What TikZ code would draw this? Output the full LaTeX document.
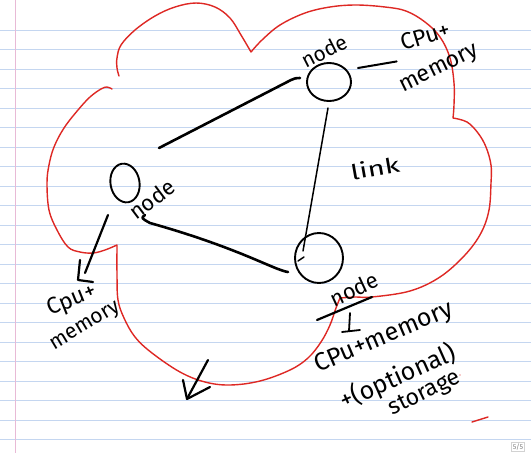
\documentclass[tikz,border=0pt]{standalone}
\usepackage{fontspec}
\setmainfont{Fira Sans}
\usetikzlibrary{shapes.geometric,calc}
\definecolor{ruleblue}{RGB}{196,214,240}
\definecolor{marginpink}{RGB}{232,186,214}
\definecolor{cloudred}{RGB}{222,40,36}
\begin{document}
\begin{tikzpicture}[x=1pt,y=-1pt,
  ruled/.style={draw=ruleblue, line width=1pt},
  marginline/.style={draw=marginpink, line width=1pt},
  cloudline/.style={draw=cloudred, line width=1.4pt, line cap=round, line join=round},
  ink/.style={line width=2.6pt, line cap=round, line join=round},
  thinink/.style={line width=1.5pt, line cap=round, line join=round},
  nodecirc/.style={ellipse, draw, line width=1.9pt, inner sep=0pt},
  hand/.style={font=\fontsize{21}{21}\selectfont, inner sep=0pt},
  bighand/.style={font=\fontsize{25}{25}\selectfont, inner sep=0pt}]
\useasboundingbox (0,0) rectangle (531,453);
\fill[white] (0,0) rectangle (531,453);
% lined paper
\foreach \k in {0,...,21} \draw[ruled] (0,{30+19.52*\k}) -- (531,{30+19.52*\k});
\draw[marginline] (15,0) -- (15,453);
% cloud
\draw[cloudline] plot[smooth, tension=0.6] coordinates {(119,76) (117,68) (117,58) (121,45) (135,30) (155,16) (175,7) (196,3) (215,7) (230,18) (241,35) (251,52)}
  plot[smooth, tension=0.6] coordinates {(251,52) (262,40) (280,25) (305,13) (330,7) (356,5) (385,7) (406,11) (425,22) (440,37) (450,58) (454,83) (454,105) (453,118)}
  plot[smooth, tension=0.6] coordinates {(453,118) (467,122) (478,133) (486,147) (491,165) (491,183) (489,210) (481,233) (465,255) (440,277) (410,291) (372,297) (355,297) (340,298)}
  plot[smooth, tension=0.6] coordinates {(340,298) (336,308) (330,325) (321,342) (308,358) (290,370) (260,381) (230,385) (205,382) (180,372) (152,353) (135,337) (124,318) (118,300) (117,275) (117,245)}
  plot[smooth, tension=0.6] coordinates {(117,245) (105,250) (93,253) (80,252) (68,247) (57,230) (49,210) (47,183) (49,165) (54,147) (64,128) (78,110) (90,97) (101,89) (107,87) (112,89)};
\draw[cloudline] (472,422) -- (488,417);
\fill[cloudred] (460,375) circle (0.7pt);
% nodes
\node[nodecirc, minimum width=44pt, minimum height=38pt] (top) at (329,82) {};
\node[nodecirc, minimum width=29pt, minimum height=39pt, rotate=10] (left) at (125,183) {};
\node[nodecirc, minimum width=48pt, minimum height=50pt] (bottom) at (319,258) {};
% labels
\node[hand, rotate=27] (topname) at (324,51) {node};
\node[hand, rotate=17, font=\fontsize{23}{23}\selectfont] (cpu1) at (425,36) {CPu+};
\node[hand, rotate=26, font=\fontsize{23}{23}\selectfont] (mem1) at (440,70) {memory};
\node[hand, rotate=10, xscale=1.4] (linklbl) at (375,168) {link};
\node[hand, rotate=37, font=\fontsize{22}{22}\selectfont] (leftname) at (152,199) {node};
\node[hand, rotate=22, font=\fontsize{23}{23}\selectfont] (cpu2) at (72,301) {Cpu+};
\node[hand, rotate=31] (mem2) at (86,327) {memory};
\node[hand, rotate=25, font=\fontsize{22}{22}\selectfont] (botname) at (354,289) {node};
\node[bighand, rotate=23] (cpu3) at (384,338) {CPu+memory};
\node[bighand, rotate=24] (opt) at (398,377) {+(optional)};
\node[hand, rotate=26, font=\fontsize{23}{23}\selectfont] (stor) at (425,394) {storage};
\node[draw=gray!35, text=gray, font=\fontsize{7}{7}\selectfont, inner sep=1.5pt, line width=0.6pt] (page) at (518,447) {5/5};
% connectors
\draw[ink] ($(top)+(-29,-4)$) .. controls ($(top)+(-33,-4)$) .. ($(top)+(-38,-2)$) -- ($(left)+(34,-35)$);
\draw[thinink] ($(top)+(-1,26)$) -- ($(bottom)+(-16,-7)$);
\draw[thinink] ($(bottom)+(-21,3)$) -- ($(bottom)+(-15,-1)$);
\draw[ink] ($(left)+(20,32)$) .. controls ($(left)+(16,35)$) .. ($(left)+(25,40)$) .. controls ($(bottom)+(-80,-10)$) and ($(bottom)+(-45,12)$) .. ($(bottom)+(-31,14)$);
\draw[thinink, line width=2pt] ($(top)+(29,-14)$) -- ($(cpu1.west)+(-4,18)$);
\coordinate (lefttip) at (78,280);
\draw[ink, line width=2.2pt] ($(left)+(-17,32)$) -- ($(lefttip)+(7,-7)$);
\draw[ink, line width=2.2pt] ($(lefttip)+(2,-20)$) -- (lefttip) -- ($(lefttip)+(15,2)$);
% underline and down-arrow under bottom node label
\draw[ink, line width=2.2pt] ($(botname)+(-37,31)$) -- ($(botname)+(18,8)$);
\coordinate (downtip) at (349,331);
\draw[thinink, line width=1.8pt] ($(downtip)+(1,-18)$) -- (downtip);
\draw[thinink, line width=1.8pt] ($(downtip)+(-7,1)$) -- ($(downtip)+(11,-1)$);
% lower arrow
\coordinate (bottip) at (187,399);
\draw[ink, line width=2.2pt] (208,360) -- ($(bottip)+(1,-2)$);
\draw[ink, line width=2.2pt] ($(bottip)+(-4,-19)$) -- (bottip) -- ($(bottip)+(23,-12)$);
\end{tikzpicture}
\end{document}
